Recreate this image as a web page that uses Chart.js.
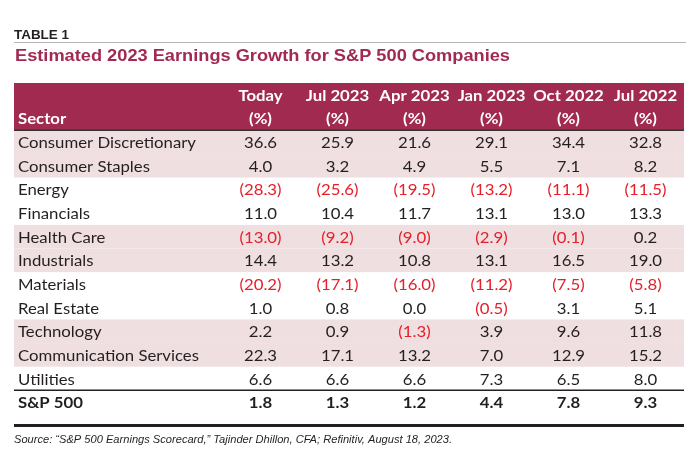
<!DOCTYPE html>
<html>
<head>
<meta charset="utf-8">
<script src="https://cdn.jsdelivr.net/npm/chart.js@4.4.0/dist/chart.umd.min.js"></script>
<style>
  html, body { margin: 0; padding: 0; background: #fff; }
  canvas { display: block; }
</style>
</head>
<body>
<canvas id="table1" width="700" height="458"></canvas>
<script>
const sectors = ['Consumer Discretionary', 'Consumer Staples', 'Energy', 'Financials', 'Health Care',
  'Industrials', 'Materials', 'Real Estate', 'Technology', 'Communication Services', 'Utilities', 'S&P 500']
const periods = ['Today', 'Jul 2023', 'Apr 2023', 'Jan 2023', 'Oct 2022', 'Jul 2022']
const today = [36.6, 4.0, -28.3, 11.0, -13.0, 14.4, -20.2, 1.0, 2.2, 22.3, 6.6, 1.8]
const jul2023 = [25.9, 3.2, -25.6, 10.4, -9.2, 13.2, -17.1, 0.8, 0.9, 17.1, 6.6, 1.3]
const apr2023 = [21.6, 4.9, -19.5, 11.7, -9.0, 10.8, -16.0, 0.0, -1.3, 13.2, 6.6, 1.2]
const jan2023 = [29.1, 5.5, -13.2, 13.1, -2.9, 13.1, -11.2, -0.5, 3.9, 7.0, 7.3, 4.4]
const oct2022 = [34.4, 7.1, -11.1, 13.0, -0.1, 16.5, -7.5, 3.1, 9.6, 12.9, 6.5, 7.8]
const jul2022 = [32.8, 8.2, -11.5, 13.3, 0.2, 19.0, -5.8, 5.1, 11.8, 15.2, 8.0, 9.3]
const columns = [today, jul2023, apr2023, jan2023, oct2022, jul2022]

const tableLabel = 'TABLE 1'
const title = 'Estimated 2023 Earnings Growth for S&P 500 Companies'
const source = 'Source: \u201cS&P 500 Earnings Scorecard,\u201d Tajinder Dhillon, CFA; Refinitiv, August 18, 2023.'

const MAROON = '#a12a50'
const PINK = '#efdfe0'
const INK = '#231f20'
const RED = '#e5202a'
const BODY = '"Lato", "Noto Sans", sans-serif'
const ARIAL = '"Liberation Sans", Arial, sans-serif'

function fmt(v) {
  return v < 0 ? '(' + Math.abs(v).toFixed(1) + ')' : v.toFixed(1)
}

// draws text squeezed horizontally to a target width
function fitText(ctx, text, x, y, width) {
  const w = ctx.measureText(text).width
  ctx.save()
  ctx.translate(x, y)
  ctx.scale(width / w, 1)
  ctx.fillText(text, 0, 0)
  ctx.restore()
}

function squeeze(ctx, text, x, y, k) {
  ctx.save()
  ctx.translate(x, y)
  ctx.scale(k, 1)
  ctx.fillText(text, 0, 0)
  ctx.restore()
}

const tablePlugin = {
  id: 'tableDraw',
  beforeDatasetsDraw(chart) {
    const {ctx, chartArea, scales: {y}} = chart
    const L = chartArea.left, W = chartArea.width
    ctx.save()
    // header band
    const hTop = y.getPixelForValue(-2), hBot = y.getPixelForValue(0)
    ctx.fillStyle = MAROON
    ctx.fillRect(L, hTop, W, hBot - hTop)
    // shaded row pairs
    ctx.fillStyle = PINK
    sectors.forEach((s, i) => {
      if (Math.floor(i / 2) % 2 === 0 && i < sectors.length - 1) {
        const t = y.getPixelForValue(i), b = y.getPixelForValue(i + 1)
        ctx.fillRect(L, t, W, b - t)
      }
    })
    // rules
    ctx.strokeStyle = '#333'
    ctx.lineWidth = 1.5
    ctx.beginPath(); ctx.moveTo(L, hBot); ctx.lineTo(L + W, hBot); ctx.stroke()
    const spY = y.getPixelForValue(sectors.length - 1)
    ctx.strokeStyle = INK
    ctx.beginPath(); ctx.moveTo(L, spY); ctx.lineTo(L + W, spY); ctx.stroke()
    ctx.lineWidth = 3
    ctx.beginPath(); ctx.moveTo(L, chartArea.bottom - 1.5); ctx.lineTo(L + W, chartArea.bottom - 1.5); ctx.stroke()
    // top caption
    ctx.strokeStyle = '#b5b5b5'
    ctx.lineWidth = 1
    ctx.beginPath(); ctx.moveTo(14, 42.5); ctx.lineTo(686, 42.5); ctx.stroke()
    ctx.fillStyle = INK
    ctx.textBaseline = 'alphabetic'
    ctx.textAlign = 'left'
    ctx.font = 'bold 12.5px ' + ARIAL
    fitText(ctx, tableLabel, 14, 39, 55)
    ctx.fillStyle = MAROON
    ctx.font = 'bold 16.3px ' + ARIAL
    fitText(ctx, title, 15, 61, 495)
    ctx.fillStyle = INK
    ctx.font = 'italic 11px ' + ARIAL
    fitText(ctx, source, 14, 443, 438)
    ctx.restore()
  },
  afterDatasetsDraw(chart) {
    const {ctx, scales: {x, y}} = chart
    ctx.save()
    ctx.textBaseline = 'alphabetic'
    ctx.font = '16px ' + BODY
    const k = 178 / ctx.measureText(sectors[0]).width
    // header text
    ctx.fillStyle = '#fff'
    ctx.font = 'bold 16px ' + BODY
    ctx.textAlign = 'left'
    squeeze(ctx, 'Sector', 18, y.getPixelForValue(-0.5) + 5.5, k)
    ctx.textAlign = 'center'
    periods.forEach((p, c) => {
      const cx = x.getPixelForValue(c + 0.5)
      squeeze(ctx, p, cx, y.getPixelForValue(-1.5) + 6.5, k)
      squeeze(ctx, '(%)', cx, y.getPixelForValue(-0.5) + 5.5, k)
    })
    // sector names
    sectors.forEach((s, i) => {
      const last = i === sectors.length - 1
      ctx.font = (last ? 'bold ' : '') + '16px ' + BODY
      ctx.fillStyle = INK
      ctx.textAlign = 'left'
      squeeze(ctx, s, 18, y.getPixelForValue(i + 0.5) + 6, k)
    })
    // values, placed at each point element
    chart.data.datasets.forEach((ds, d) => {
      const meta = chart.getDatasetMeta(d)
      meta.data.forEach((pt, i) => {
        const v = ds.data[i].v
        const last = i === sectors.length - 1
        ctx.font = (last ? 'bold ' : '') + '16px ' + BODY
        ctx.fillStyle = v < 0 ? RED : INK
        ctx.textAlign = 'center'
        squeeze(ctx, fmt(v), pt.x, pt.y + 6, k)
      })
    })
    ctx.restore()
  }
}

const datasets = columns.map((vals, c) => ({
  label: periods[c],
  data: vals.map((v, i) => ({x: c + 0.5, y: i + 0.5, v: v})),
  pointRadius: 0,
  pointHoverRadius: 0
}))

new Chart(document.getElementById('table1').getContext('2d'), {
  type: 'scatter',
  data: {datasets: datasets},
  options: {
    responsive: false,
    animation: false,
    events: [],
    layout: {padding: {left: 14, right: 16, top: 83, bottom: 31}},
    plugins: {legend: {display: false}, tooltip: {enabled: false}},
    scales: {
      x: {type: 'linear', display: false, min: 6 - 670 / 77, max: 6},
      y: {type: 'linear', display: false, reverse: true, min: -2, max: 12.55}
    }
  },
  plugins: [tablePlugin]
})
</script>
</body>
</html>
